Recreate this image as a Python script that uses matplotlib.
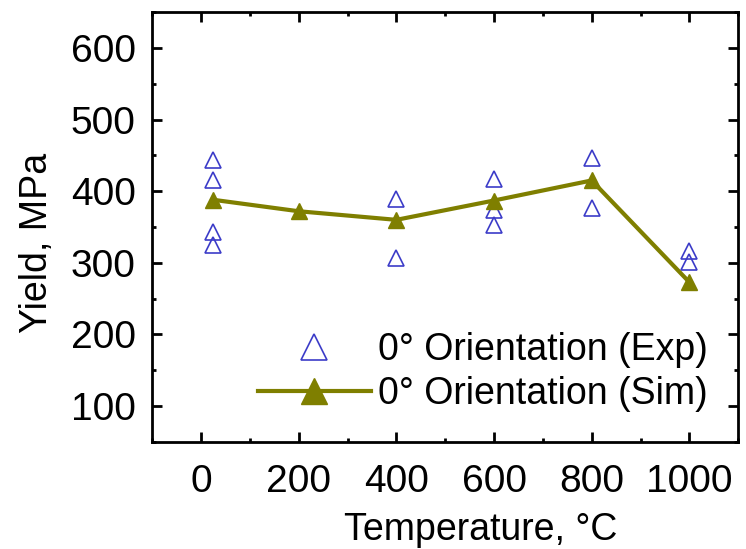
import numpy as np
import matplotlib
matplotlib.use('Agg')
import matplotlib.pyplot as plt
from matplotlib.ticker import MultipleLocator

plt.rcParams['font.family'] = ['Liberation Sans', 'DejaVu Sans']
plt.rcParams['xtick.direction'] = 'in'
plt.rcParams['ytick.direction'] = 'in'

# experimental points (temperature, yield)
exp_T = [25, 25, 25, 25, 400, 400, 600, 600, 600, 800, 800, 1000, 1000]
exp_Y = [443, 415, 343, 325, 389, 307, 417, 374, 353, 447, 376, 316, 301]

# simulation
sim_T = [25, 200, 400, 600, 800, 1000]
sim_Y = [388, 372, 360, 387, 415, 273]

fs = 28
fig = plt.figure(figsize=(7.46, 5.49), dpi=100)
ax = fig.add_axes([0.204, 0.195, 0.7855, 0.783])

ax.plot(exp_T, exp_Y, linestyle='none', marker='^', markersize=12,
        markerfacecolor='none', markeredgecolor='#3c3cc8', markeredgewidth=1.2,
        label='0° Orientation (Exp)')
ax.plot(sim_T, sim_Y, color='#7f7f00', lw=3, marker='^', markersize=12,
        markerfacecolor='#7f7f00', markeredgecolor='#7f7f00',
        label='0° Orientation (Sim)')

ax.set_xlim(-100, 1100)
ax.set_ylim(50, 650)
ax.set_xticks([0, 200, 400, 600, 800, 1000])
ax.set_yticks([100, 200, 300, 400, 500, 600])
ax.xaxis.set_minor_locator(MultipleLocator(100))
ax.yaxis.set_minor_locator(MultipleLocator(50))
ax.tick_params(which='both', top=True, right=True, labelsize=fs, width=2)
ax.tick_params(which='major', length=7)
ax.tick_params(which='minor', length=3)
ax.tick_params(axis='x', pad=16)
ax.tick_params(axis='y', pad=12)
for s in ax.spines.values():
    s.set_linewidth(2)

ax.set_xlabel('Temperature, °C', fontsize=27)
ax.xaxis.set_label_coords(0.56, -0.162)
ax.set_ylabel('Yield, MPa', fontsize=27)
ax.yaxis.set_label_coords(-0.166, 0.462)
ax.legend(loc='lower right', frameon=False, fontsize=27, handlelength=3.0,
          handletextpad=0.2, borderaxespad=0, labelspacing=0.2,
          markerscale=1.6, bbox_to_anchor=(0.974, 0.035))

fig.savefig('out.png', dpi=100)
